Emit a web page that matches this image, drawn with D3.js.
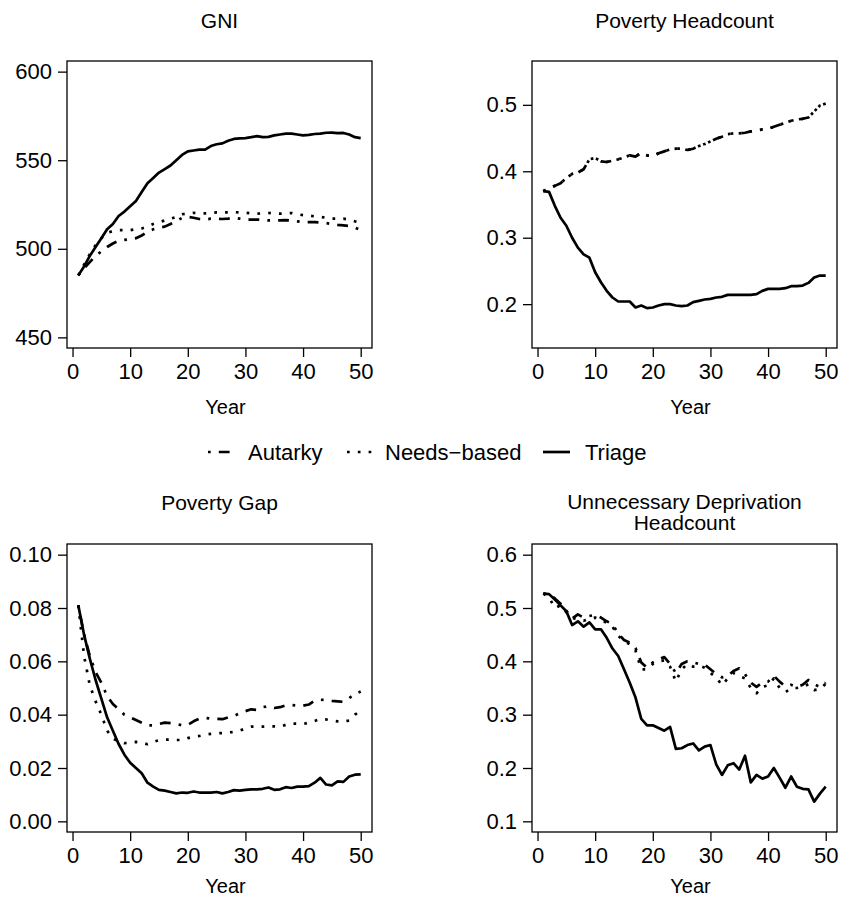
<!DOCTYPE html>
<html>
<head>
<meta charset="utf-8">
<script src="https://cdn.jsdelivr.net/npm/d3@7"></script>
<style>
  html, body { margin: 0; padding: 0; background: #fff; }
  svg { display: block; font-family: "Liberation Sans", Arial, Helvetica, sans-serif; }
</style>
</head>
<body>
<svg id="chart" width="844" height="900"></svg>
<script>
// ---------------- DATA ----------------
const years = [1,2,3,4,5,6,7,8,9,10,11,12,13,14,15,16,17,18,19,20,21,22,23,24,25,
               26,27,28,29,30,31,32,33,34,35,36,37,38,39,40,41,42,43,44,45,46,47,48,49,50];

const seriesNames = ["Autarky", "Needs-based", "Triage"];

// GNI
const gniAutarky = [485,489,492.5,496,498.5,501,503,504.5,505,505.5,506,507.5,509.5,511,512,512.5,514,515.5,517.5,518,
  517.5,516.8,516.5,517,517,516.8,517,517.5,517,516.5,516.5,516.5,516.3,516,516,516,516.2,516,515.5,515,
  515,515,514.8,514.5,514,513.5,513.2,512.8,512,510.5];
const gniNeeds = [485,491,497,502,506,509,510,510.5,510.5,510.5,511,511.5,512.5,514,515,516,517,518,519.5,520,
  520.3,520,520,520.3,520.5,520.5,520.5,520.7,520.5,520.3,520,519.8,520,520.2,520,519.8,520,520.2,519.5,519,
  518.7,518.3,518,517.5,517,517,517,516.5,515.5,515];
const gniTriage = [485,490,496,501,506,511,514,518.5,521,524,527,532,537,540,543,545,547,550,553,555,
  555.5,556,556,558,559,559.5,561,562,562.3,562.5,563,563.6,563,563.2,564,564.5,565,565,564.5,564,
  564.3,564.8,565,565.5,565.6,565.3,565.4,564.5,563,562.5];

// Poverty Headcount
const phAutarky = [0.370,0.375,0.378,0.382,0.390,0.396,0.398,0.403,0.418,0.420,0.415,0.414,0.416,0.418,0.421,0.424,0.422,0.428,0.424,0.423,
  0.427,0.430,0.433,0.434,0.434,0.432,0.434,0.438,0.441,0.445,0.449,0.452,0.456,0.457,0.457,0.458,0.460,0.461,0.463,0.464,
  0.467,0.470,0.473,0.476,0.478,0.479,0.481,0.490,0.499,0.502];
const phNeeds = [0.370,0.375,0.378,0.382,0.390,0.396,0.398,0.403,0.418,0.420,0.415,0.414,0.416,0.418,0.421,0.424,0.422,0.428,0.424,0.423,
  0.427,0.430,0.433,0.434,0.434,0.432,0.434,0.438,0.441,0.445,0.449,0.452,0.456,0.457,0.457,0.458,0.460,0.461,0.463,0.464,
  0.467,0.470,0.473,0.476,0.478,0.479,0.481,0.490,0.499,0.502];
const phTriage = [0.370,0.369,0.348,0.330,0.318,0.300,0.285,0.275,0.270,0.248,0.233,0.220,0.210,0.204,0.204,0.204,0.195,0.198,0.194,0.195,
  0.198,0.200,0.200,0.198,0.197,0.198,0.203,0.205,0.207,0.208,0.210,0.211,0.214,0.214,0.214,0.214,0.214,0.215,0.220,0.223,
  0.223,0.223,0.224,0.227,0.227,0.228,0.232,0.240,0.243,0.243];

// Poverty Gap
const pgAutarky = [0.081,0.070,0.062,0.056,0.052,0.047,0.044,0.042,0.040,0.039,0.038,0.037,0.036,0.036,0.0365,0.037,0.0368,0.0365,0.036,0.0362,
  0.0375,0.0385,0.0388,0.0385,0.0384,0.0383,0.039,0.0395,0.0405,0.0413,0.042,0.0418,0.0428,0.0432,0.0425,0.0428,0.0435,0.0436,0.0434,0.0434,
  0.0438,0.0452,0.0456,0.0455,0.0452,0.0450,0.0448,0.0462,0.0478,0.0487];
const pgNeeds = [0.081,0.062,0.051,0.045,0.040,0.034,0.031,0.0300,0.0293,0.0295,0.0298,0.0295,0.0289,0.0298,0.0304,0.0306,0.0307,0.0305,0.0305,0.0312,
  0.0317,0.0320,0.0325,0.0328,0.0330,0.0331,0.0332,0.0336,0.0340,0.0348,0.0355,0.0355,0.0355,0.0357,0.0356,0.0355,0.0362,0.0367,0.0366,0.0365,
  0.0370,0.0376,0.0384,0.0382,0.0378,0.0375,0.0373,0.0378,0.0400,0.0415];
const pgTriage = [0.081,0.070,0.061,0.053,0.046,0.039,0.034,0.029,0.025,0.022,0.020,0.018,0.0145,0.0130,0.0118,0.0115,0.0110,0.0105,0.0108,0.0107,
  0.0112,0.0108,0.0108,0.0108,0.0110,0.0105,0.0110,0.0117,0.0115,0.0118,0.0120,0.0120,0.0122,0.0127,0.0118,0.0120,0.0128,0.0125,0.0130,0.0130,
  0.0132,0.0145,0.0163,0.0138,0.0135,0.0150,0.0148,0.0168,0.0175,0.0176];

// Unnecessary Deprivation Headcount
const udhAutarky = [0.527,0.526,0.518,0.508,0.495,0.480,0.488,0.482,0.485,0.487,0.482,0.475,0.470,0.452,0.440,0.435,0.425,0.398,0.388,0.398,
  0.404,0.408,0.395,0.378,0.395,0.400,0.398,0.395,0.394,0.385,0.376,0.370,0.372,0.382,0.387,0.376,0.360,0.352,0.360,0.362,
  0.373,0.362,0.353,0.356,0.352,0.356,0.365,0.357,0.352,0.360];
const udhNeeds = [0.527,0.520,0.500,0.505,0.492,0.482,0.478,0.476,0.480,0.482,0.478,0.472,0.465,0.448,0.438,0.432,0.420,0.385,0.385,0.395,
  0.400,0.402,0.390,0.362,0.385,0.395,0.390,0.392,0.388,0.378,0.370,0.355,0.368,0.378,0.372,0.368,0.350,0.340,0.352,0.355,
  0.368,0.350,0.342,0.350,0.350,0.352,0.357,0.346,0.348,0.358];
const udhTriage = [0.527,0.526,0.516,0.505,0.494,0.468,0.475,0.465,0.473,0.460,0.460,0.444,0.424,0.410,0.385,0.360,0.332,0.292,0.280,0.280,
  0.275,0.270,0.277,0.236,0.237,0.243,0.246,0.233,0.240,0.243,0.207,0.187,0.205,0.209,0.197,0.223,0.173,0.187,0.180,0.184,
  0.200,0.182,0.163,0.184,0.165,0.161,0.160,0.137,0.152,0.165];

// Axis ticks
const xTicks = [0,10,20,30,40,50];
const gniTicks = [450,500,550,600];
const phTicks = [0.2,0.3,0.4,0.5];
const pgTicks = [0.00,0.02,0.04,0.06,0.08,0.10];
const udhTicks = [0.1,0.2,0.3,0.4,0.5,0.6];

// ---------------- LAYOUT ----------------
const svg = d3.select("#chart");
const TICK_FONT = 22;
const TITLE_FONT = 21;
const LAB_FONT = 20;
const LEG_FONT = 22;
const lineStyles = {
  "Autarky":     { dash: "2.7,8.1,10.8,8.1" },
  "Needs-based": { dash: "2.7,8.1" },
  "Triage":      { dash: null }
};
const LW = 2.7;

const panels = [
  { title: ["GNI"], box: {l: 67, t: 61, r: 372, b: 348}, ylim: [450, 600], ticks: gniTicks, fmt: d3.format("d"),
    series: [gniAutarky, gniNeeds, gniTriage], titleY: 28, yearY: 414 },
  { title: ["Poverty Headcount"], box: {l: 532, t: 61, r: 837, b: 348}, ylim: [0.15, 0.55], ticks: phTicks, fmt: d3.format(".1f"),
    series: [phAutarky, phNeeds, phTriage], titleY: 28, yearY: 414 },
  { title: ["Poverty Gap"], box: {l: 67, t: 544, r: 372, b: 832}, ylim: [0, 0.10], ticks: pgTicks, fmt: d3.format(".2f"),
    series: [pgAutarky, pgNeeds, pgTriage], titleY: 510, yearY: 893 },
  { title: ["Unnecessary Deprivation", "Headcount"], box: {l: 532, t: 544, r: 837, b: 832}, ylim: [0.1, 0.6], ticks: udhTicks, fmt: d3.format(".1f"),
    series: [udhAutarky, udhNeeds, udhTriage], titleY: 509, yearY: 893 }
];

function expand(lim) {
  const d = (lim[1] - lim[0]) * 0.04;
  return [lim[0] - d, lim[1] + d];
}

panels.forEach(p => {
  const b = p.box;
  const x = d3.scaleLinear().domain(expand([1, 50])).range([b.l, b.r]);
  const y = d3.scaleLinear().domain(expand(p.ylim)).range([b.b, b.t]);
  const g = svg.append("g");

  // lines
  const line = d3.line().x((d, i) => x(years[i])).y(d => y(d));
  seriesNames.forEach((name, si) => {
    const st = lineStyles[name];
    g.append("path")
      .datum(p.series[si])
      .attr("d", line)
      .attr("fill", "none")
      .attr("stroke", "#000")
      .attr("stroke-width", LW)
      .attr("stroke-linejoin", "round")
      .attr("stroke-dasharray", st.dash);
  });

  // box
  g.append("rect")
    .attr("x", b.l).attr("y", b.t)
    .attr("width", b.r - b.l).attr("height", b.b - b.t)
    .attr("fill", "none").attr("stroke", "#000").attr("stroke-width", 1.3);

  // y axis
  const ya = g.append("g").attr("transform", `translate(${b.l},0)`)
    .call(d3.axisLeft(y).tickValues(p.ticks).tickFormat(p.fmt).tickSize(9).tickPadding(6));
  ya.select(".domain").remove();
  ya.selectAll("line").attr("stroke", "#000").attr("stroke-width", 1.3);
  ya.selectAll("text").attr("font-size", TICK_FONT).attr("fill", "#000")
    .attr("font-family", "Liberation Sans, Arial, sans-serif");

  // x axis
  const xa = g.append("g").attr("transform", `translate(0,${b.b})`)
    .call(d3.axisBottom(x).tickValues(xTicks).tickFormat(d3.format("d")).tickSize(9).tickPadding(6));
  xa.select(".domain").remove();
  xa.selectAll("line").attr("stroke", "#000").attr("stroke-width", 1.3);
  xa.selectAll("text").attr("font-size", TICK_FONT).attr("fill", "#000")
    .attr("font-family", "Liberation Sans, Arial, sans-serif");

  // title
  const cx = (b.l + b.r) / 2;
  p.title.forEach((t, i) => {
    g.append("text").attr("x", cx).attr("y", p.titleY + i * 21)
      .attr("text-anchor", "middle").attr("font-size", TITLE_FONT).attr("fill", "#000")
      .text(t);
  });

  // x label
  g.append("text").attr("x", cx + 6).attr("y", p.yearY)
    .attr("text-anchor", "middle").attr("font-size", LAB_FONT).attr("fill", "#000")
    .text("Year");
});

// ---------------- LEGEND ----------------
const legendItems = [
  { name: "Autarky", x1: 208, x2: 235, tx: 248 },
  { name: "Needs-based", x1: 347, x2: 374, tx: 385 },
  { name: "Triage", x1: 543, x2: 570, tx: 585 }
];
const ly = 452;
const lg = svg.append("g");
legendItems.forEach(it => {
  lg.append("line").attr("x1", it.x1).attr("x2", it.x2).attr("y1", ly).attr("y2", ly)
    .attr("stroke", "#000").attr("stroke-width", LW)
    .attr("stroke-dasharray", lineStyles[it.name].dash);
  lg.append("text").attr("x", it.tx).attr("y", ly + 8).attr("font-size", LEG_FONT).attr("fill", "#000")
    .text(it.name === "Needs-based" ? "Needs\u2212based" : it.name);
});
</script>
</body>
</html>
